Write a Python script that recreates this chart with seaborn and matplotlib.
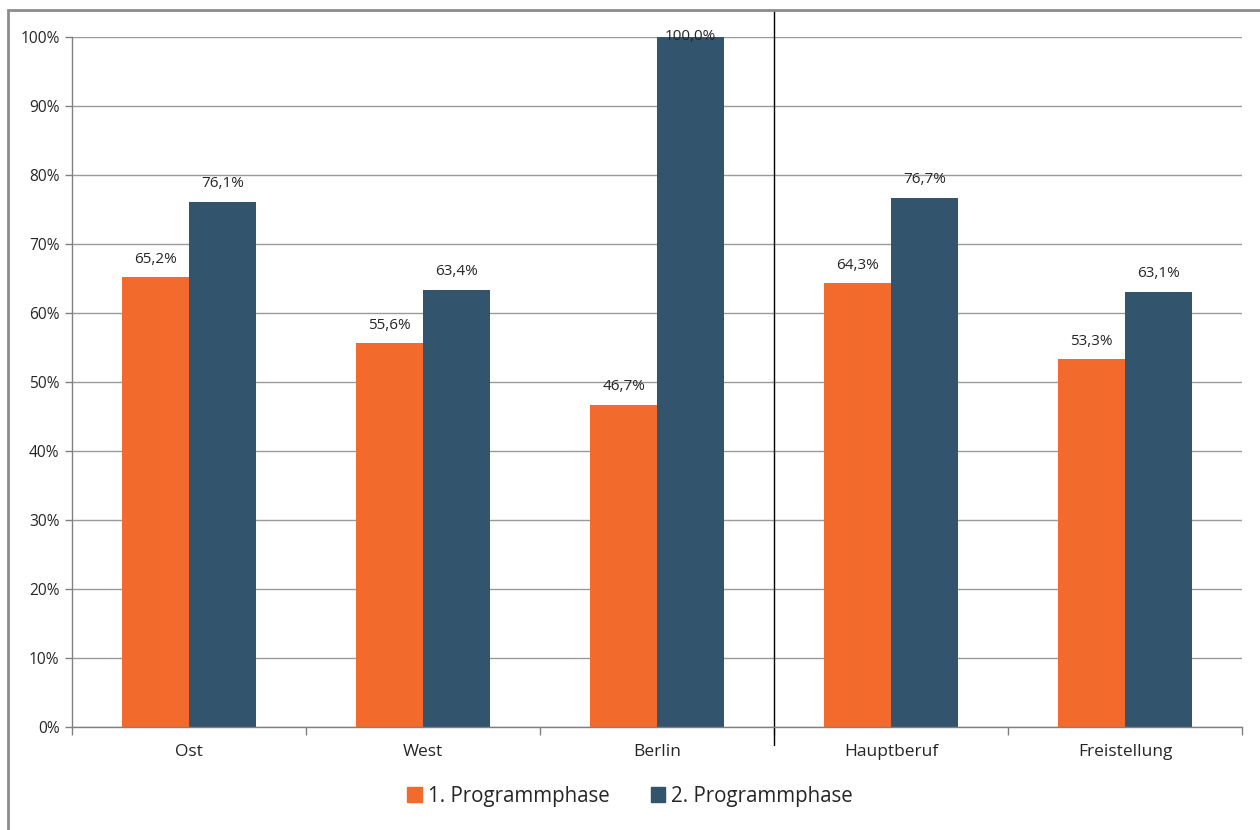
import pandas as pd
import matplotlib.pyplot as plt
import seaborn as sns
from matplotlib.patches import Rectangle

categories = ['Ost', 'West', 'Berlin', 'Hauptberuf', 'Freistellung']
phase1 = [65.2, 55.6, 46.7, 64.3, 53.3]
phase2 = [76.1, 63.4, 100.0, 76.7, 63.1]
series = ['1. Programmphase', '2. Programmphase']
colors = ['#F26A2C', '#32546D']

df = pd.DataFrame({
    'cat': categories * 2,
    'value': phase1 + phase2,
    'phase': [series[0]] * len(categories) + [series[1]] * len(categories),
})

sns.set_style('white')
plt.rcParams['font.family'] = ['Open Sans', 'DejaVu Sans']

fig = plt.figure(figsize=(12.6, 8.3), dpi=100)
ax = fig.add_axes([72 / 1260, 103 / 830, 1170 / 1260, 690 / 830])

sns.barplot(data=df, x='cat', y='value', hue='phase', palette=colors,
            width=0.57, saturation=1, linewidth=0, ax=ax, legend=False)

ax.set_ylim(0, 100)
ax.set_xlim(-0.5, len(categories) - 0.5)
ax.set_yticks(range(0, 101, 10))
ax.set_yticklabels([f'{v}%' for v in range(0, 101, 10)], fontsize=11.2)
ax.set_xlabel('')
ax.set_ylabel('')
ax.tick_params(axis='x', length=0, labelsize=12.5, pad=12)
ax.set_xticks([i + 0.5 for i in range(-1, len(categories))], minor=True)
ax.tick_params(axis='x', which='minor', bottom=True, length=6,
               color='#808080', width=1)
ax.tick_params(axis='y', left=True, length=5, color='#808080', width=1, pad=4)
ax.grid(axis='y', color='#9a9a9a', linewidth=1)
ax.set_axisbelow(True)
for s in ['top', 'right']:
    ax.spines[s].set_visible(False)
for s in ['left', 'bottom']:
    ax.spines[s].set_color('#808080')
    ax.spines[s].set_linewidth(1)

# value labels
for cont, vals in zip(ax.containers, [phase1, phase2]):
    for bar, v in zip(cont, vals):
        x = bar.get_x() + bar.get_width() / 2
        y = min(v + 2.6, 100)
        ax.text(x, y, f'{v:.1f}%'.replace('.', ','), ha='center', va='center',
                fontsize=11)

# separator between regions and employment groups
ax.plot([2.5, 2.5], [-2.6, 103.9], color='black', linewidth=1, clip_on=False)

# outer chart frame
fig.patches.append(Rectangle((8 / 1260, -0.2), 1.2, 1.2 - 10 / 830,
                             transform=fig.transFigure, fill=False,
                             edgecolor='#8c8c8c', linewidth=2))

handles = [Rectangle((0, 0), 1, 1, color=c) for c in colors]
fig.legend(handles, series, loc='center', bbox_to_anchor=(0.5, 1 - 796 / 830),
           ncol=2, frameon=False, fontsize=14.8, handlelength=0.7,
           handleheight=0.7, handletextpad=0.3, columnspacing=2.0)

fig.savefig('out.png', dpi=100)
